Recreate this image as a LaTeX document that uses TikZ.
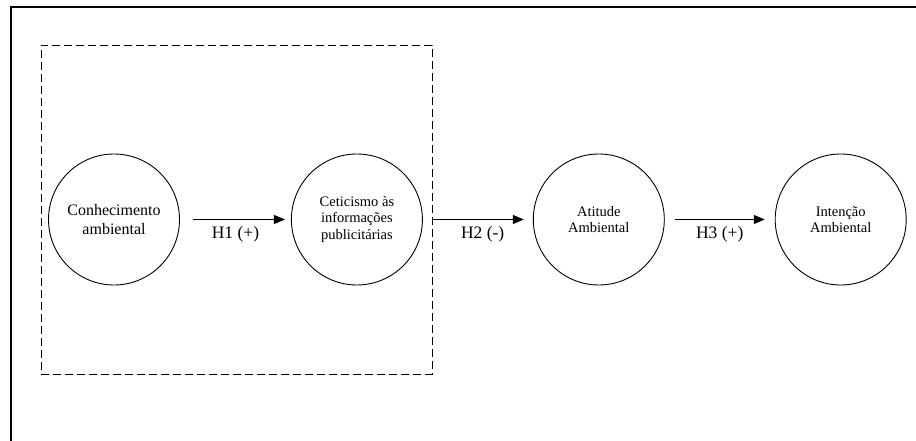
\documentclass[tikz,border=0pt]{standalone}
\usepackage{fontspec}
\setmainfont{Liberation Serif}
\usepackage{tikz}
\usetikzlibrary{positioning,arrows.meta}

\tikzset{
  construto/.style={draw,circle,minimum size=131pt,inner sep=0pt,align=center,
    font=\fontsize{14.5}{16.5}\selectfont,line width=0.9pt},
  hipotese/.style={-{Triangle[length=11pt,width=9pt]},line width=0.9pt},
  rotulo/.style={font=\fontsize{17.5}{19}\selectfont,below=3pt}
}

\begin{document}
\begin{tikzpicture}[x=1pt,y=-1pt]
  \useasboundingbox (0,0) rectangle (916,441);
  % moldura
  \draw[line width=1.3pt] (11,441) -- (11,7) -- (916,7);

  % bloco tracejado
  \node[draw,line width=0.9pt,dash pattern=on 8pt off 4pt,
        minimum width=391pt,minimum height=329pt,inner sep=0pt] (grupo) at (236.5,209.5) {};

  \node[construto,font=\fontsize{16}{18.5}\selectfont] (conh) at (114,219.5) {Conhecimento\\ambiental};
  \node[construto,right=111pt of conh] (cet) {Ceticismo às\\informações\\publicitárias};
  \node[construto,right=110pt of cet] (ati) {Atitude\\Ambiental};
  \node[construto,right=110pt of ati] (int) {Intenção\\Ambiental};

  \draw[hipotese,shorten <=13pt,shorten >=6pt] (conh) -- node[rotulo] (h1) {H1 (+)} (cet);
  \draw[hipotese,shorten >=9pt] (grupo.east |- ati.west) -- node[rotulo] (h2) {H2 (-)} (ati);
  \draw[hipotese,shorten <=10pt,shorten >=10pt] (ati) -- node[rotulo] (h3) {H3 (+)} (int);
\end{tikzpicture}
\end{document}
